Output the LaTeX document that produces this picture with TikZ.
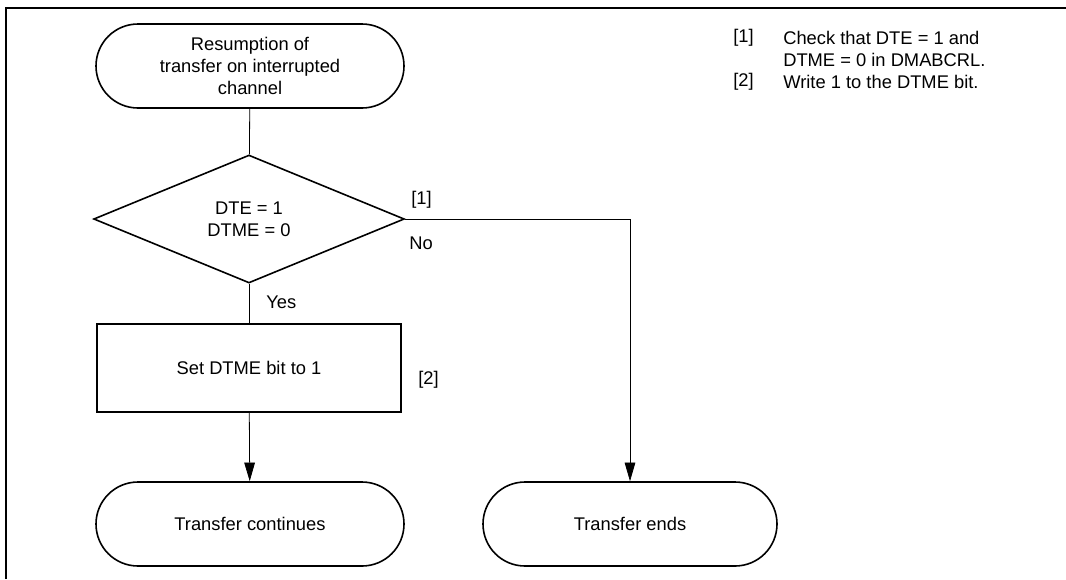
\documentclass[tikz,border=0pt]{standalone}
\usepackage{fontspec}
\setmainfont{Liberation Sans}
\usetikzlibrary{
  arrows.meta,
  positioning,
  shapes.geometric,
  shapes.misc
}
\tikzset{
  >={Triangle[width=8pt,length=14pt]},
  every node/.style={font=\fontsize{13.75pt}{16.5pt}\selectfont},
  terminal/.style={draw, rounded rectangle, line width=1.2pt, minimum width=231pt, minimum height=63pt, align=center, inner sep=0pt},
  decision/.style={draw, diamond, aspect=2.4, line width=1.2pt, minimum width=233pt, minimum height=96pt, align=center, inner sep=0pt},
  process/.style={draw, rectangle, line width=1.2pt, minimum width=228pt, minimum height=66pt, align=center},
  line/.style={line width=0.6pt},
  arrow/.style={->, line width=0.6pt},
  note/.style={anchor=west, inner sep=0pt}
}

\begin{document}
\begin{tikzpicture}[x=0.75pt,y=-0.75pt]
  \useasboundingbox (0,0) rectangle (1066,579);
  \draw[line width=1.5pt] (6,579) -- (6,8) -- (1066,8);

  \node[terminal] (start) at (250,66) {Resumption of\\transfer on interrupted\\channel};
  \node[decision] (check) at (249,219) {DTE = 1\\DTME = 0};
  \node[process] (set) at (249,368) {Set DTME bit to 1};
  \node[terminal] (cont) at (250,524) {Transfer continues};
  \node[terminal, minimum width=220.5pt] (ends) at (630,524) {Transfer ends};

  \draw[line] (start) -- (check);
  \draw[line] (check) -- (set);
  \draw[arrow] (set) -- (cont);
  \draw[arrow] (check.east) -| (ends.north);

  \node[note] (one) at (411,200) {[1]};
  \node[note] (no) at (409,243) {No};
  \node[note] (yes) at (266,302) {Yes};
  \node[note] (two) at (418,380) {[2]};

  % notes
  \node[note] (n1) at (733,38) {[1]};
  \node[note] (n1a) at (783,38) {Check that DTE = 1 and};
  \node[note] (n1b) at (783,60) {DTME = 0 in DMABCRL.};
  \node[note] (n2) at (733,82) {[2]};
  \node[note] (n2a) at (783,82) {Write 1 to the DTME bit.};
\end{tikzpicture}
\end{document}
